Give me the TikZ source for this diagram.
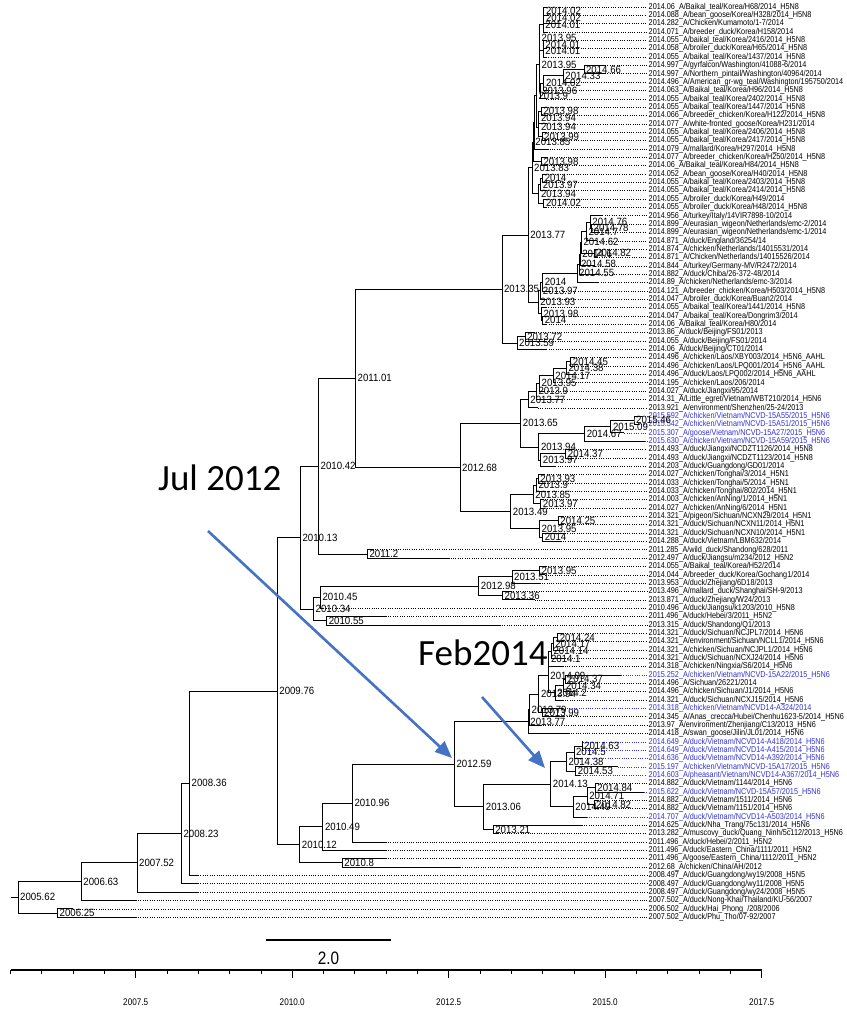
\documentclass[tikz,border=0pt]{standalone}
\usepackage{fontspec}
\setmainfont{Liberation Sans}
\newfontfamily\tipfont[FakeStretch=0.855]{Liberation Sans}
\newfontfamily\axisfont[FakeStretch=0.85]{Liberation Sans}
\newfontfamily\agefont[FakeStretch=0.92]{Liberation Sans}
\newfontfamily\calloutfont{Carlito}
\usepackage{tikz}
\usetikzlibrary{arrows.meta,calc}
\definecolor{isoblue}{RGB}{50,50,215}
\definecolor{markblue}{RGB}{68,114,196}
\newcommand\tx[1]{292.2+62.6*(#1-2010)}
\tikzset{
  branch/.style={line width=0.8pt,line join=miter},
  tipdots/.style={line width=0.6pt,dash pattern=on 0.7pt off 1.6pt},
  tiplab/.style={anchor=west,inner sep=1.5pt,text height=6pt,text depth=1.5pt,
    font=\tipfont\fontsize{8.5}{8.5}\selectfont},
  agelab/.style={anchor=west,inner sep=0.5pt,xshift=1.5pt,
    font=\agefont\fontsize{10.5}{10.5}\selectfont},
  axisline/.style={line width=1.3pt},
  axislab/.style={font=\axisfont\fontsize{9.6}{9.6}\selectfont},
  callout/.style={anchor=base west,inner sep=0pt,
    font=\calloutfont\fontsize{37}{37}\selectfont},
  markflow/.style={-{Triangle[length=17pt,width=14pt]},line width=2.6pt,draw=markblue}
}
% tip: [colour]{name}{row}{date}{rest of label}
\newcommand\tip[5][black]{%
  \coordinate (#2) at ({\tx{#4}},{7+(#3-1)*8.35});
  \node[tiplab,text=#1] (#2l) at (647,{7+(#3-1)*8.35}) {#4\_#5};
  \draw[tipdots,draw=#1] (#2) -- (#2l.west);
}
% clade: {name}{age}{upper child}{lower child}
\newcommand\cladenl[4]{%
  \path let \p1=(#3), \p2=(#4) in ({(\tx{#2})*1pt},{0.5*\y1+0.5*\y2}) coordinate (#1);
  \draw[branch] (#3) -| (#1) |- (#4);
}
\newcommand\clade[4]{\cladenl{#1}{#2}{#3}{#4}\node[agelab] (#1l) at (#1) {#2};}

\begin{document}
\begin{tikzpicture}[x=1pt,y=-1pt]
  \useasboundingbox (0,0) rectangle (846,1011);
  % tips
  \tip{l1}{1}{2014.06}{A/Baikal\_teal/Korea/H68/2014\_H5N8}
  \tip{l2}{2}{2014.088}{A/bean\_goose/Korea/H328/2014\_H5N8}
  \tip{l3}{3}{2014.282}{A/Chicken/Kumamoto/1-7/2014}
  \tip{l4}{4}{2014.071}{A/breeder\_duck/Korea/H158/2014}
  \tip{l5}{5}{2014.055}{A/baikal\_teal/Korea/2416/2014\_H5N8}
  \tip{l6}{6}{2014.058}{A/broiler\_duck/Korea/H65/2014\_H5N8}
  \tip{l7}{7}{2014.055}{A/baikal\_teal/Korea/1437/2014\_H5N8}
  \tip{l8}{8}{2014.997}{A/gyrfalcon/Washington/41088-6/2014}
  \tip{l9}{9}{2014.997}{A/Northern\_pintail/Washington/40964/2014}
  \tip{l10}{10}{2014.496}{A/American\_gr-wg\_teal/Washington/195750/2014}
  \tip{l11}{11}{2014.063}{A/Baikal\_teal/Korea/H96/2014\_H5N8}
  \tip{l12}{12}{2014.055}{A/baikal\_teal/Korea/2402/2014\_H5N8}
  \tip{l13}{13}{2014.055}{A/baikal\_teal/Korea/1447/2014\_H5N8}
  \tip{l14}{14}{2014.066}{A/breeder\_chicken/Korea/H122/2014\_H5N8}
  \tip{l15}{15}{2014.077}{A/white-fronted\_goose/Korea/H231/2014}
  \tip{l16}{16}{2014.055}{A/baikal\_teal/Korea/2406/2014\_H5N8}
  \tip{l17}{17}{2014.055}{A/baikal\_teal/Korea/2417/2014\_H5N8}
  \tip{l18}{18}{2014.079}{A/mallard/Korea/H297/2014\_H5N8}
  \tip{l19}{19}{2014.077}{A/breeder\_chicken/Korea/H250/2014\_H5N8}
  \tip{l20}{20}{2014.06}{A/Baikal\_teal/Korea/H84/2014\_H5N8}
  \tip{l21}{21}{2014.052}{A/bean\_goose/Korea/H40/2014\_H5N8}
  \tip{l22}{22}{2014.055}{A/baikal\_teal/Korea/2403/2014\_H5N8}
  \tip{l23}{23}{2014.055}{A/baikal\_teal/Korea/2414/2014\_H5N8}
  \tip{l24}{24}{2014.055}{A/broiler\_duck/Korea/H49/2014}
  \tip{l25}{25}{2014.055}{A/broiler\_duck/Korea/H48/2014\_H5N8}
  \tip{l26}{26}{2014.956}{A/turkey/Italy/14VIR7898-10/2014}
  \tip{l27}{27}{2014.899}{A/eurasian\_wigeon/Netherlands/emc-2/2014}
  \tip{l28}{28}{2014.899}{A/eurasian\_wigeon/Netherlands/emc-1/2014}
  \tip{l29}{29}{2014.871}{A/duck/England/36254/14}
  \tip{l30}{30}{2014.874}{A/chicken/Netherlands/14015531/2014}
  \tip{l31}{31}{2014.871}{A/Chicken/Netherlands/14015526/2014}
  \tip{l32}{32}{2014.844}{A/turkey/Germany-MV/R2472/2014}
  \tip{l33}{33}{2014.882}{A/duck/Chiba/26-372-48/2014}
  \tip{l34}{34}{2014.89}{A/chicken/Netherlands/emc-3/2014}
  \tip{l35}{35}{2014.121}{A/breeder\_chicken/Korea/H503/2014\_H5N8}
  \tip{l36}{36}{2014.047}{A/broiler\_duck/Korea/Buan2/2014}
  \tip{l37}{37}{2014.055}{A/baikal\_teal/Korea/1441/2014\_H5N8}
  \tip{l38}{38}{2014.047}{A/baikal\_teal/Korea/Dongrim3/2014}
  \tip{l39}{39}{2014.06}{A/Baikal\_teal/Korea/H80/2014}
  \tip{l40}{40}{2013.86}{A/duck/Beijing/FS01/2013}
  \tip{l41}{41}{2014.055}{A/duck/Beijing/FS01/2014}
  \tip{l42}{42}{2014.06}{A/duck/Beijing/CT01/2014}
  \tip{l43}{43}{2014.496}{A/chicken/Laos/XBY003/2014\_H5N6\_AAHL}
  \tip{l44}{44}{2014.496}{A/chicken/Laos/LPQ001/2014\_H5N6\_AAHL}
  \tip{l45}{45}{2014.496}{A/duck/Laos/LPQ002/2014\_H5N6\_AAHL}
  \tip{l46}{46}{2014.195}{A/chicken/Laos/206/2014}
  \tip{l47}{47}{2014.027}{A/duck/Jiangxi/95/2014}
  \tip{l48}{48}{2014.31}{A/Little\_egret/Vietnam/WBT210/2014\_H5N6}
  \tip{l49}{49}{2013.921}{A/environment/Shenzhen/25-24/2013}
  \tip[isoblue]{l50}{50}{2015.592}{A/chicken/Vietnam/NCVD-15A55/2015\_H5N6}
  \tip[isoblue]{l51}{51}{2015.542}{A/chicken/Vietnam/NCVD-15A51/2015\_H5N6}
  \tip[isoblue]{l52}{52}{2015.307}{A/goose/Vietnam/NCVD-15A27/2015\_H5N6}
  \tip[isoblue]{l53}{53}{2015.630}{A/chicken/Vietnam/NCVD-15A59/2015\_H5N6}
  \tip{l54}{54}{2014.493}{A/duck/Jiangxi/NCDZT1126/2014\_H5N8}
  \tip{l55}{55}{2014.493}{A/duck/Jiangxi/NCDZT1123/2014\_H5N8}
  \tip{l56}{56}{2014.203}{A/duck/Guangdong/GD01/2014}
  \tip{l57}{57}{2014.027}{A/chicken/Tonghai/3/2014\_H5N1}
  \tip{l58}{58}{2014.033}{A/chicken/Tonghai/5/2014\_H5N1}
  \tip{l59}{59}{2014.033}{A/chicken/Tonghai/802/2014\_H5N1}
  \tip{l60}{60}{2014.003}{A/chicken/AnNing/1/2014\_H5N1}
  \tip{l61}{61}{2014.027}{A/chicken/AnNing/6/2014\_H5N1}
  \tip{l62}{62}{2014.321}{A/pigeon/Sichuan/NCXN29/2014\_H5N1}
  \tip{l63}{63}{2014.321}{A/duck/Sichuan/NCXN11/2014\_H5N1}
  \tip{l64}{64}{2014.321}{A/duck/Sichuan/NCXN10/2014\_H5N1}
  \tip{l65}{65}{2014.288}{A/duck/Vietnam/LBM632/2014}
  \tip{l66}{66}{2011.285}{A/wild\_duck/Shandong/628/2011}
  \tip{l67}{67}{2012.497}{A/duck/Jiangsu/m234/2012\_H5N2}
  \tip{l68}{68}{2014.055}{A/Baikal\_teal/Korea/H52/2014}
  \tip{l69}{69}{2014.044}{A/breeder\_duck/Korea/Gochang1/2014}
  \tip{l70}{70}{2013.953}{A/duck/Zhejiang/6D18/2013}
  \tip{l71}{71}{2013.496}{A/mallard\_duck/Shanghai/SH-9/2013}
  \tip{l72}{72}{2013.871}{A/duck/Zhejiang/W24/2013}
  \tip{l73}{73}{2010.496}{A/duck/Jiangsu/k1203/2010\_H5N8}
  \tip{l74}{74}{2011.496}{A/duck/Hebei/3/2011\_H5N2}
  \tip{l75}{75}{2013.315}{A/duck/Shandong/Q1/2013}
  \tip{l76}{76}{2014.321}{A/duck/Sichuan/NCJPL7/2014\_H5N6}
  \tip{l77}{77}{2014.321}{A/environment/Sichuan/NCLL1/2014\_H5N6}
  \tip{l78}{78}{2014.321}{A/chicken/Sichuan/NCJPL1/2014\_H5N6}
  \tip{l79}{79}{2014.321}{A/duck/Sichuan/NCXJ24/2014\_H5N6}
  \tip{l80}{80}{2014.318}{A/chicken/Ningxia/S6/2014\_H5N6}
  \tip[isoblue]{l81}{81}{2015.252}{A/chicken/Vietnam/NCVD-15A22/2015\_H5N6}
  \tip{l82}{82}{2014.496}{A/Sichuan/26221/2014}
  \tip{l83}{83}{2014.496}{A/chicken/Sichuan/J1/2014\_H5N6}
  \tip{l84}{84}{2014.321}{A/duck/Sichuan/NCXJ15/2014\_H5N6}
  \tip[isoblue]{l85}{85}{2014.318}{A/chicken/Vietnam/NCVD14-A324/2014}
  \tip{l86}{86}{2014.345}{A/Anas\_crecca/Hubei/Chenhu1623-5/2014\_H5N6}
  \tip{l87}{87}{2013.97}{A/environment/Zhenjiang/C13/2013\_H5N6}
  \tip{l88}{88}{2014.418}{A/swan\_goose/Jilin/JL01/2014\_H5N6}
  \tip[isoblue]{l89}{89}{2014.649}{A/duck/Vietnam/NCVD14-A418/2014\_H5N6}
  \tip[isoblue]{l90}{90}{2014.649}{A/duck/Vietnam/NCVD14-A415/2014\_H5N6}
  \tip[isoblue]{l91}{91}{2014.636}{A/duck/Vietnam/NCVD14-A392/2014\_H5N6}
  \tip[isoblue]{l92}{92}{2015.197}{A/chicken/Vietnam/NCVD-15A17/2015\_H5N6}
  \tip[isoblue]{l93}{93}{2014.603}{A/pheasant/Vietnam/NCVD14-A367/2014\_H5N6}
  \tip{l94}{94}{2014.882}{A/duck/Vietnam/1144/2014\_H5N6}
  \tip[isoblue]{l95}{95}{2015.622}{A/duck/Vietnam/NCVD-15A57/2015\_H5N6}
  \tip{l96}{96}{2014.882}{A/duck/Vietnam/1511/2014\_H5N6}
  \tip{l97}{97}{2014.882}{A/duck/Vietnam/1151/2014\_H5N6}
  \tip[isoblue]{l98}{98}{2014.707}{A/duck/Vietnam/NCVD14-A503/2014\_H5N6}
  \tip{l99}{99}{2014.625}{A/duck/Nha\_Trang/75c131/2014\_H5N6}
  \tip{l100}{100}{2013.282}{A/muscovy\_duck/Quang\_Ninh/5c112/2013\_H5N6}
  \tip{l101}{101}{2011.496}{A/duck/Hebei/2/2011\_H5N2}
  \tip{l102}{102}{2011.496}{A/duck/Eastern\_China/1111/2011\_H5N2}
  \tip{l103}{103}{2011.496}{A/goose/Eastern\_China/1112/2011\_H5N2}
  \tip{l104}{104}{2012.68}{A/chicken/China/AH/2012}
  \tip{l105}{105}{2008.497}{A/duck/Guangdong/wy19/2008\_H5N5}
  \tip{l106}{106}{2008.497}{A/duck/Guangdong/wy11/2008\_H5N5}
  \tip{l107}{107}{2008.497}{A/duck/Guangdong/wy24/2008\_H5N5}
  \tip{l108}{108}{2007.502}{A/duck/Nong-Khai/Thailand/KU-56/2007}
  \tip{l109}{109}{2006.502}{A/duck/Hai\_Phong\_/208/2006}
  \tip{l110}{110}{2007.502}{A/duck/Phu\_Tho/07-92/2007}
  % Korean H5N8 group
  \clade{b1}{2014.02}{l1}{l2}
  \clade{b2}{2014.02}{b1}{l3}
  \clade{b3}{2014.01}{b2}{l4}
  \clade{b4}{2014.01}{l5}{l6}
  \clade{b5}{2014.01}{b4}{l7}
  \clade{b6}{2013.95}{b3}{b5}
  \clade{b8}{2014.66}{l8}{l9}
  \clade{b9}{2014.33}{b8}{l10}
  \clade{b10}{2014.02}{b9}{l11}
  \clade{b11}{2013.96}{b10}{l12}
  \clade{b7}{2013.95}{b6}{b11}
  \clade{c1}{2013.98}{l13}{l14}
  \clade{c2}{2013.94}{c1}{l15}
  \clade{c3}{2013.99}{l16}{l17}
  \clade{c4}{2013.94}{c2}{c3}
  \clade{c5}{2013.9}{b7}{c4}
  \cladenl{c6}{2013.87}{c5}{l18}
  \clade{c7}{2013.98}{l19}{l20}
  \clade{c8}{2013.85}{c6}{c7}
  \clade{d1}{2014}{l21}{l22}
  \clade{d2}{2013.97}{d1}{l23}
  \clade{d3}{2014.02}{l24}{l25}
  \clade{d4}{2013.94}{d2}{d3}
  \clade{d5}{2013.83}{c8}{d4}
  % Europe
  \clade{e1}{2014.78}{l27}{l28}
  \clade{e2}{2014.76}{l26}{e1}
  \clade{e3}{2014.7}{e2}{l29}
  \clade{e4}{2014.82}{l30}{l31}
  \clade{e5}{2014.62}{e3}{e4}
  \clade{e6}{2014.6}{e5}{l32}
  \clade{e7}{2014.58}{e6}{l33}
  \clade{e8}{2014.55}{e7}{l34}
  \clade{k1}{2014}{e8}{l35}
  \clade{k2}{2013.97}{k1}{l36}
  \clade{k5}{2014}{l38}{l39}
  \clade{k4}{2013.98}{l37}{k5}
  \clade{k3}{2013.93}{k2}{k4}
  \clade{g1}{2013.77}{d5}{k3}
  \clade{g2}{2013.72}{l40}{l41}
  \clade{g3}{2013.59}{g2}{l42}
  \clade{g4}{2013.35}{g1}{g3}
  % Laos, Vietnam, Jiangxi
  \clade{f1}{2014.45}{l43}{l44}
  \clade{f2}{2014.38}{f1}{l45}
  \clade{f3}{2014.17}{f2}{l46}
  \clade{f4}{2013.95}{f3}{l47}
  \clade{f5}{2013.9}{f4}{l48}
  \clade{f6}{2013.77}{f5}{l49}
  \clade{v1}{2015.46}{l50}{l51}
  \clade{v2}{2015.09}{v1}{l52}
  \clade{v3}{2014.67}{v2}{l53}
  \clade{j1}{2014.37}{l54}{l55}
  \clade{j2}{2013.97}{j1}{l56}
  \clade{j3}{2013.94}{v3}{j2}
  \clade{f7}{2013.65}{f6}{j3}
  % H5N1
  \clade{t1}{2013.93}{l57}{l58}
  \clade{t2}{2013.9}{t1}{l59}
  \clade{t3}{2013.97}{l60}{l61}
  \clade{t4}{2013.85}{t2}{t3}
  \clade{s1}{2014.25}{l62}{l63}
  \clade{s2}{2014}{l64}{l65}
  \clade{s3}{2013.95}{s1}{s2}
  \clade{t5}{2013.49}{t4}{s3}
  \clade{h1}{2012.68}{f7}{t5}
  \clade{h2}{2011.01}{g4}{h1}
  \clade{h3}{2011.2}{l66}{l67}
  \clade{h4}{2010.42}{h2}{h3}
  \clade{q1}{2013.95}{l68}{l69}
  \clade{q2}{2013.51}{q1}{l70}
  \clade{q3}{2013.36}{l71}{l72}
  \clade{q4}{2012.98}{q2}{q3}
  \clade{q5}{2010.45}{q4}{l73}
  \clade{q6}{2010.55}{l74}{l75}
  \clade{q7}{2010.34}{q5}{q6}
  \clade{h5}{2010.13}{h4}{q7}
  % H5N6
  \clade{p1}{2014.24}{l76}{l77}
  \clade{p2}{2014.17}{p1}{l78}
  \clade{p3}{2014.14}{p2}{l79}
  \clade{p4}{2014.1}{p3}{l80}
  \clade{p5}{2014.37}{l81}{l82}
  \clade{p6}{2014.34}{p5}{l83}
  \clade{p7}{2014.2}{p6}{l84}
  \clade{p8}{2014.09}{p4}{p7}
  \clade{p10}{2013.99}{l85}{l86}
  \clade{p9}{2013.94}{p8}{p10}
  \clade{p11}{2013.79}{p9}{l87}
  \clade{r1}{2013.77}{p11}{l88}
  \clade{w1}{2014.63}{l89}{l90}
  \clade{w2}{2014.5}{w1}{l91}
  \clade{w3}{2014.53}{l92}{l93}
  \clade{w4}{2014.38}{w2}{w3}
  \clade{y1}{2014.84}{l94}{l95}
  \clade{y2}{2014.82}{l96}{l97}
  \clade{y3}{2014.71}{y1}{y2}
  \clade{y4}{2014.49}{y3}{l98}
  \clade{z1}{2014.13}{w4}{y4}
  \clade{z2}{2013.21}{l99}{l100}
  \clade{z3}{2013.06}{z1}{z2}
  \clade{r2}{2012.59}{r1}{z3}
  \clade{r3}{2010.96}{r2}{l101}
  \clade{r4}{2010.49}{r3}{l102}
  \clade{r5}{2010.8}{l103}{l104}
  \clade{r6}{2010.12}{r4}{r5}
  % backbone
  \clade{m1}{2009.76}{h5}{r6}
  \clade{m2}{2008.36}{m1}{l105}
  \clade{m3}{2008.23}{m2}{l106}
  \clade{m4}{2007.52}{m3}{l107}
  \clade{m5}{2006.63}{m4}{l108}
  \clade{m6}{2006.25}{l109}{l110}
  \clade{root}{2005.62}{m5}{m6}
  \coordinate (rootstub) at ($(root)+(-7,0)$);
  \draw[branch] (rootstub) -- (root);
  % scale bar and time axis
  \coordinate (barl) at (266,940);
  \coordinate (barr) at (391,940);
  \draw[axisline] (barl) -- (barr);
  \node[font=\axisfont\fontsize{18}{18}\selectfont] (barlab) at (328.5,958) {2.0};
  \coordinate (axl) at ({\tx{2005.5}},970);
  \coordinate (axr) at ({\tx{2017.5}},970);
  \draw[axisline] (axl) -- (axr);
  \foreach \i in {0,...,24}
    \draw[line width=0.8pt] ({\tx{2005.5+0.5*\i}},970) -- ++(0,4);
  \foreach \t in {2007.5,2010.0,2012.5,2015.0,2017.5}{
    \draw[line width=1pt] ({\tx{\t}},970) -- ++(0,8);
    \node[axislab] at ({\tx{\t}},1002) {\t};
  }
  % callouts
  \node[callout] (jul) at (158,490) {Jul 2012};
  \node[callout] (feb) at (418,665) {Feb2014};
  \coordinate (julfrom) at (208,531);
  \coordinate (julto) at (452,758);
  \coordinate (febfrom) at (482,697);
  \coordinate (febto) at (545,768);
  \draw[markflow] (julfrom) -- (julto);
  \draw[markflow] (febfrom) -- (febto);
\end{tikzpicture}
\end{document}
